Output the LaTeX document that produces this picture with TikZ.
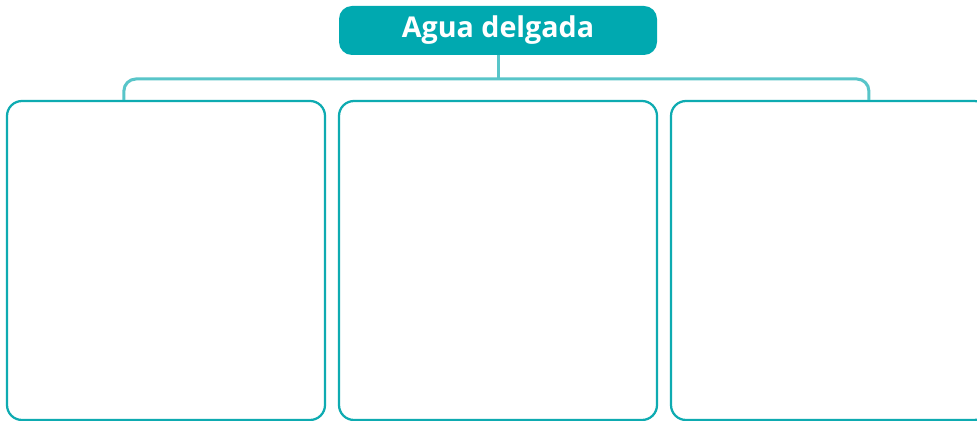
\documentclass[tikz,border=0pt]{standalone}
\usepackage{fontspec}
\newfontfamily\titulofont{Open Sans}
\usetikzlibrary{calc}
\definecolor{turquesa}{RGB}{0,169,176}
\definecolor{borde}{RGB}{14,171,177}
\definecolor{enlace}{RGB}{88,197,201}
\tikzset{
	titulo/.style={rectangle, rounded corners=2.6mm, fill=turquesa, text=white, minimum width=63.6mm, minimum height=9.8mm, inner sep=0pt, font=\titulofont\bfseries\fontsize{16.3}{19}\selectfont},
	caja/.style={rectangle, rounded corners=3mm, draw=borde, line width=0.45mm, minimum width=63.6mm, minimum height=63.8mm, inner sep=0pt},
	conector/.style={draw=enlace, line width=0.6mm, rounded corners=2.4mm}
}

\begin{document}
\begin{tikzpicture}[x=0.2mm, y=-0.2mm]
		%%%%% START %%%%%
		
		\fill[white] (0, 0) rectangle (977, 421);
		\useasboundingbox (0, 0) rectangle (977, 421);
		
		\node[titulo] (agua) at (498, 30.5) {Agua delgada};
		
		\node[caja] (caja1) at (166, 260.5) {};
		\node[caja] (caja2) at (498, 260.5) {};
		\node[caja] (caja3) at (830, 260.5) {};
		
		\coordinate (barra) at (0, 79);
		\coordinate (bajada1) at ($(caja1.north west)+(118, 0)$);
		\coordinate (bajada3) at ($(caja3.north west)+(199, 0)$);
		
		\draw[conector] (bajada1) -- (bajada1 |- barra) -- (bajada3 |- barra) -- (bajada3);
		\draw[conector] (agua.south) -- (agua.south |- barra);
		
		%%%%% END %%%%%
	\end{tikzpicture}
\end{document}
